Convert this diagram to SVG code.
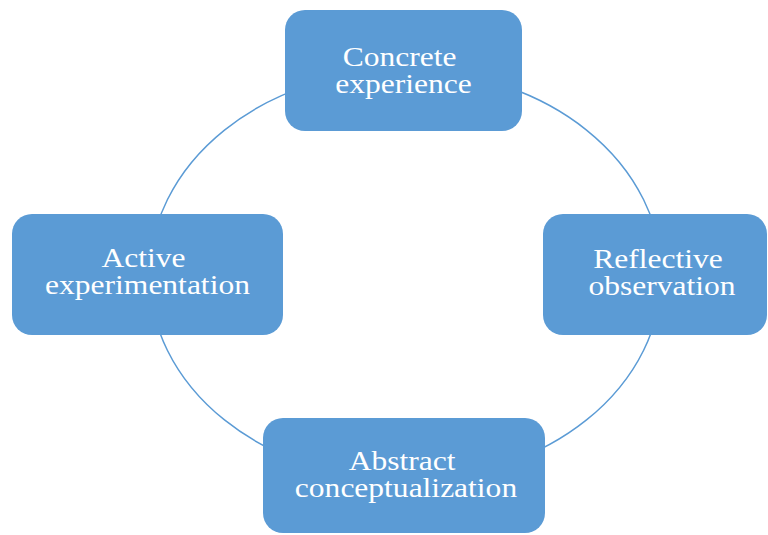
<svg xmlns="http://www.w3.org/2000/svg" width="768" height="535" viewBox="0 0 768 535">
  <style>
    .box { fill: #5B9BD5; }
    .ring { fill: none; stroke: #5B9BD5; stroke-width: 1.5; }
    .label { fill: #FFFFFF; font-family: "Liberation Serif", "Times New Roman", serif; font-size: 26.5px; text-anchor: middle; }
  </style>
  <rect width="768" height="535" fill="#FFFFFF"/>

  <g id="connectors">
    <ellipse class="ring" cx="405.5" cy="275" rx="256" ry="205"/>
  </g>

  <g id="concrete-experience">
    <rect class="box" x="285" y="10" width="237" height="121" rx="20" ry="20"/>
    <text class="label" transform="translate(403.5 66) scale(1.19 1)">
      <tspan x="0" y="0">Concrete</tspan>
      <tspan x="0" y="27">experience</tspan>
    </text>
  </g>

  <g id="reflective-observation">
    <rect class="box" x="543" y="214" width="224" height="121" rx="20" ry="20"/>
    <text class="label" transform="translate(662 268) scale(1.19 1)">
      <tspan x="0" y="0">Reflective</tspan>
      <tspan x="0" y="27">observation</tspan>
    </text>
  </g>

  <g id="abstract-conceptualization">
    <rect class="box" x="263" y="418" width="282" height="115" rx="20" ry="20"/>
    <text class="label" transform="translate(406 470) scale(1.19 1)">
      <tspan x="0" y="0">Abstract</tspan>
      <tspan x="0" y="27">conceptualization</tspan>
    </text>
  </g>

  <g id="active-experimentation">
    <rect class="box" x="12" y="214" width="271" height="121" rx="20" ry="20"/>
    <text class="label" transform="translate(147.5 267) scale(1.19 1)">
      <tspan x="0" y="0">Active</tspan>
      <tspan x="0" y="27">experimentation</tspan>
    </text>
  </g>
</svg>
